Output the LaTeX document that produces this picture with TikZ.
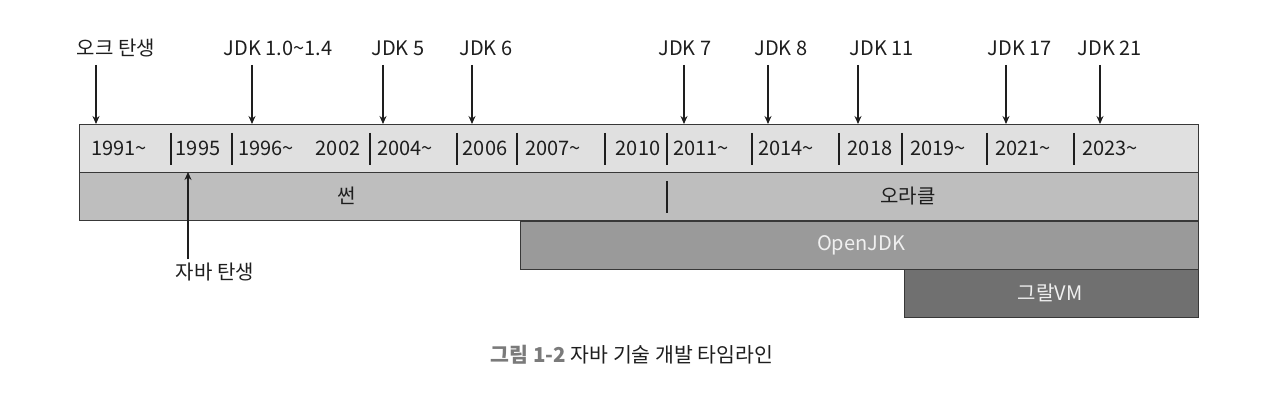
\documentclass[tikz,border=0pt]{standalone}
\usepackage{fontspec}
\setmainfont{Noto Sans CJK KR}
\usetikzlibrary{arrows.meta}
\definecolor{barA}{HTML}{E0E0E0}
\definecolor{barB}{HTML}{BEBEBE}
\definecolor{barC}{HTML}{9A9A9A}
\definecolor{barD}{HTML}{707070}
\definecolor{edge}{HTML}{383838}
\definecolor{ink}{HTML}{1E1E1E}
\definecolor{capgray}{HTML}{7A7A7A}
\begin{document}
\begin{tikzpicture}[x=1pt,y=-1pt,
  bar/.style={draw=edge,line width=1.4pt,anchor=north west,inner sep=0pt,minimum height=48pt},
  txt/.style={font=\fontsize{20}{23}\selectfont,text=ink,inner sep=0pt},
  wtxt/.style={font=\fontsize{20}{23}\selectfont,text=white!94!black,inner sep=0pt},
  arr/.style={draw=ink,line width=1.1pt,-{Stealth[length=8pt,width=7pt]}},
  divider/.style={draw=ink,line width=1.4pt}]
\useasboundingbox (0,0) rectangle (1284,414);
% bars
\node[bar,fill=barC,minimum width=678pt] (openjdk) at (520,221) {};
\node[bar,fill=barD,minimum width=294pt] (graal) at (904,269) {};
\node[bar,fill=barB,minimum width=1119pt] (company) at (79,172) {};
\node[bar,fill=barA,minimum width=1119pt] (years) at (79,124) {};
% bar labels
\node[txt] (sun) at (347,196) {썬};
\node[txt] (oracle) at (908,196) {오라클};
\node[wtxt] (ojdk) at (861,245) {OpenJDK};
\node[wtxt] (gvm) at (1050,293) {그랄VM};
\draw[divider] (667,181) -- (667,213);
% years
\foreach \x/\t in {119/1991\textasciitilde, 198/1995, 266/1996\textasciitilde, 338/2002,
  405/2004\textasciitilde, 485/2006, 553/2007\textasciitilde, 638/2010, 701/2011\textasciitilde,
  786/2014\textasciitilde, 870/2018, 938/2019\textasciitilde, 1023/2021\textasciitilde, 1110/2023\textasciitilde}
  \node[txt] at (\x,148) {\t};
\foreach \x in {171,232,370,457,517,605,667,752,839,902,987,1074}
  \draw[divider] (\x,133) -- (\x,165);
% top labels and arrows
\foreach \n/\lx/\ax/\t in {oak/116/96/오크 탄생, j1/278/252/JDK 1.0\textasciitilde1.4, j5/398/383/JDK 5,
  j6/486/472/JDK 6, j7/685/684/JDK 7, j8/781/768/JDK 8, j11/882/858/JDK 11,
  j17/1020/1006/JDK 17, j21/1110/1100/JDK 21}{
  \node[txt] (\n) at (\lx,48) {\t};
  \coordinate (\n s) at (\ax,65);
  \coordinate (\n e) at (\ax,124);
  \draw[arr] (\n s) -- (\n e);
}
% java birth
\node[txt] (java) at (215,272) {자바 탄생};
\coordinate (javas) at (188,259);
\coordinate (javae) at (188,172);
\draw[arr] (javas) -- (javae);
% caption
\node[inner sep=0pt,font=\fontsize{20.5}{24}\selectfont] (cap) at (632,355)
  {\textcolor{capgray}{\bfseries 그림 1-2} \textcolor{ink}{자바 기술 개발 타임라인}};
\end{tikzpicture}
\end{document}
